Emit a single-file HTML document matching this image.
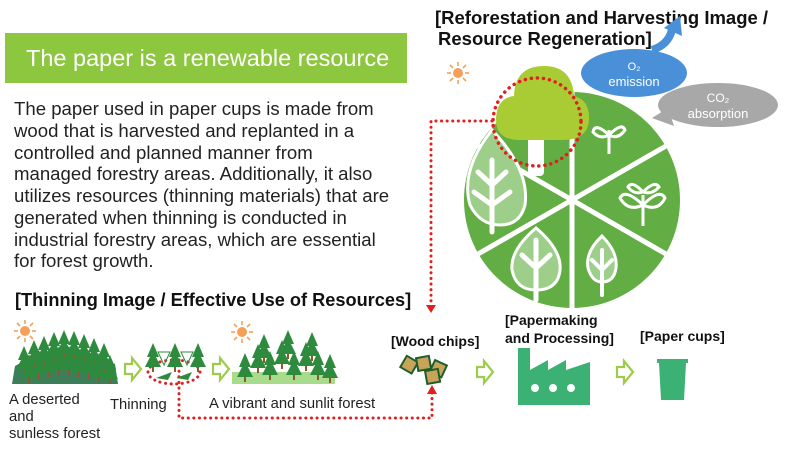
<!DOCTYPE html>
<html><head><meta charset="utf-8"><style>
body{margin:0;width:800px;height:451px;overflow:hidden;background:#fff;font-family:"Liberation Sans",sans-serif}
</style></head><body>
<svg width="800" height="451" viewBox="0 0 800 451" xmlns="http://www.w3.org/2000/svg" font-family="Liberation Sans, sans-serif">
<defs>
<g id="pine"><polygon points="0,-22 -6,-8 -3,-8 -8,2 8,2 3,-8 6,-8" fill="#2e8b3e"/><rect x="-1" y="2" width="2" height="5" fill="#8a5a2b"/></g>
<g id="sun"><circle r="5" fill="#f5a05a"/><g stroke="#f5a05a" stroke-width="1.6"><line x1="0" y1="-7" x2="0" y2="-11"/><line x1="0" y1="7" x2="0" y2="11"/><line x1="-7" y1="0" x2="-11" y2="0"/><line x1="7" y1="0" x2="11" y2="0"/><line x1="5" y1="5" x2="8" y2="8"/><line x1="-5" y1="5" x2="-8" y2="8"/><line x1="5" y1="-5" x2="8" y2="-8"/><line x1="-5" y1="-5" x2="-8" y2="-8"/></g></g>
<g id="arr"><polygon points="0,-5 7,-5 7,-11 16,0 7,11 7,5 0,5" fill="#fff" stroke="#9ccc4a" stroke-width="2.2"/></g>
</defs>
<rect x="5" y="33" width="402" height="50" fill="#8dc63f"/>
<text x="26" y="66" font-size="23.5" fill="#fff">The paper is a renewable resource</text>
<g font-size="18.6" fill="#222">
<text x="14" y="115">The paper used in paper cups is made from</text>
<text x="14" y="137">wood that is harvested and replanted in a</text>
<text x="14" y="159">controlled and planned manner from</text>
<text x="14" y="180">managed forestry areas. Additionally, it also</text>
<text x="14" y="202">utilizes resources (thinning materials) that are</text>
<text x="14" y="224">generated when thinning is conducted in</text>
<text x="14" y="246">industrial forestry areas, which are essential</text>
<text x="14" y="267">for forest growth.</text>
</g>
<g font-size="18.5" font-weight="bold" fill="#111">
<text x="435" y="24">[Reforestation and Harvesting Image /</text>
<text x="438" y="45">Resource Regeneration]</text>
<text x="15" y="306" font-size="18.2">[Thinning Image / Effective Use of Resources]</text>
</g>
<use href="#sun" x="458" y="73"/>
<path d="M652,50 Q668,45 672,30" stroke="#4a90d9" stroke-width="8" fill="none"/>
<polygon points="664,28 680,16 682,36" fill="#4a90d9"/>
<ellipse cx="634" cy="73" rx="53" ry="24" fill="#4a90d9"/>
<text x="634" y="70" font-size="11" fill="#fff" text-anchor="middle">O₂</text>
<text x="634" y="86" font-size="13" fill="#fff" text-anchor="middle">emission</text>
<polygon points="668,108 652,118 674,126" fill="#a8a8a8"/>
<ellipse cx="718" cy="105" rx="60" ry="22" fill="#a8a8a8"/>
<text x="718" y="102" font-size="12" fill="#fff" text-anchor="middle">CO₂</text>
<text x="718" y="118" font-size="13" fill="#fff" text-anchor="middle">absorption</text>
<circle cx="572" cy="200" r="108" fill="#63ad45"/>
<g stroke="#fff" stroke-width="5">
<line x1="572" y1="92" x2="572" y2="308"/>
<line x1="478" y1="254" x2="666" y2="146"/>
<line x1="478" y1="146" x2="666" y2="254"/>
</g>
<path d="M492,130 Q460,170 470,205 Q480,225 500,225 Q520,225 525,205 Q530,170 492,130Z" fill="#9dcf8a" stroke="#fff" stroke-width="3"/>
<path d="M492,160 V232 M492,185 L478,172 M492,185 L506,172 M492,205 L474,192 M492,205 L510,192" stroke="#fff" stroke-width="5" fill="none" stroke-linecap="round"/>
<path d="M536,228 Q510,250 512,270 Q516,290 536,290 Q558,290 560,270 Q562,250 536,228Z" fill="#9dcf8a" stroke="#fff" stroke-width="3"/>
<path d="M536,240 V300 M536,268 L522,255 M536,268 L550,255" stroke="#fff" stroke-width="5" fill="none" stroke-linecap="round"/>
<path d="M602,236 Q585,252 588,268 Q592,282 602,282 Q614,282 616,268 Q618,252 602,236Z" fill="#9dcf8a" stroke="#fff" stroke-width="3"/>
<path d="M602,250 V295 M602,270 L592,260 M602,270 L612,260" stroke="#fff" stroke-width="4" fill="none" stroke-linecap="round"/>
<path d="M609,154 V130 M609,135 Q595,122 593,132 Q600,140 609,135 M609,135 Q622,122 625,130 Q618,140 609,135" stroke="#fff" stroke-width="3" fill="none"/>
<path d="M643,226 V195 M643,205 Q625,188 620,198 Q628,212 643,205 M643,205 Q660,188 665,198 Q658,212 643,205 M643,192 Q632,180 628,187 Q634,195 643,192 M643,192 Q655,180 659,187 Q652,195 643,192" stroke="#fff" stroke-width="3" fill="none"/>
<rect x="528" y="128" width="16" height="48" rx="4" fill="#fff"/>
<path d="M520,140 Q495,140 496,118 Q497,98 514,96 Q515,66 544,66 Q572,66 574,96 Q590,100 589,120 Q588,140 562,140Z" fill="#a9cc35"/>
<circle cx="537" cy="122" r="44" fill="none" stroke="#e02020" stroke-width="3.5" stroke-dasharray="0.1 6" stroke-linecap="round"/>
<g fill="none" stroke="#e02020" stroke-width="3" stroke-dasharray="0.1 5.5" stroke-linecap="round">
<path d="M492,121 H431 V305"/>
<path d="M179,360 V418 H432 V392"/>
<ellipse cx="174" cy="372" rx="26" ry="12"/>
</g>
<polygon points="426,305 436,305 431,313" fill="#e02020"/>
<polygon points="427,394 437,394 432,385" fill="#e02020"/>
<use href="#sun" x="25" y="331"/>
<path d="M12,384 L15,366 Q60,338 115,364 L118,384Z" fill="#3c7e58"/>
<g>
<use href="#pine" x="24" y="368"/><use href="#pine" x="34" y="362"/><use href="#pine" x="44" y="358"/><use href="#pine" x="54" y="354"/><use href="#pine" x="64" y="352"/><use href="#pine" x="74" y="353"/><use href="#pine" x="84" y="356"/><use href="#pine" x="94" y="360"/><use href="#pine" x="104" y="365"/>
<use href="#pine" x="29" y="376"/><use href="#pine" x="39" y="372"/><use href="#pine" x="49" y="370"/><use href="#pine" x="59" y="368"/><use href="#pine" x="69" y="368"/><use href="#pine" x="79" y="370"/><use href="#pine" x="89" y="372"/><use href="#pine" x="99" y="375"/><use href="#pine" x="110" y="377"/>
</g>
<use href="#arr" x="125" y="369"/>
<use href="#pine" x="153" y="365"/><use href="#pine" x="175" y="365"/><use href="#pine" x="198" y="365"/>
<polygon points="164,365 158,352 170,352" fill="none" stroke="#2e8b3e"/><polygon points="187,365 181,352 193,352" fill="none" stroke="#2e8b3e"/>
<polygon points="156,378 172,372 168,380" fill="#2e8b3e"/><polygon points="176,378 192,372 188,380" fill="#2e8b3e"/>
<use href="#arr" x="213" y="369"/>
<use href="#sun" x="242" y="332"/>
<rect x="232" y="372" width="103" height="12" fill="#a9db8c"/>
<use href="#pine" x="245" y="375"/><use href="#pine" x="258" y="366"/><use href="#pine" x="270" y="373"/><use href="#pine" x="282" y="362"/><use href="#pine" x="294" y="373"/><use href="#pine" x="306" y="364"/><use href="#pine" x="318" y="373"/><use href="#pine" x="330" y="376"/><use href="#pine" x="264" y="356"/><use href="#pine" x="288" y="352"/><use href="#pine" x="312" y="354"/>
<g font-size="14.8" fill="#222">
<text x="9" y="404">A deserted</text><text x="9" y="421">and</text><text x="9" y="438">sunless forest</text>
<text x="110" y="409">Thinning</text>
<text x="209" y="408">A vibrant and sunlit forest</text>
</g>
<g font-size="14" font-weight="bold" fill="#111">
<text x="391" y="346">[Wood chips]</text>
<text x="505" y="325">[Papermaking</text>
<text x="505" y="343">and Processing]</text>
<text x="640" y="341">[Paper cups]</text>
</g>
<g stroke="#1f5e2a" stroke-width="2" fill="#c8a45a">
<rect x="403" y="358" width="13" height="13" transform="rotate(30 409 364)"/>
<rect x="417" y="357" width="13" height="13" transform="rotate(-10 423 363)"/>
<rect x="432" y="362" width="13" height="13" transform="rotate(25 438 368)"/>
<rect x="426" y="370" width="13" height="13" transform="rotate(-10 432 376)"/>
</g>
<use href="#arr" x="477" y="372"/>
<path d="M518,348 H530 V370 L548,360 V370 L566,360 V370 L590,362 V405 H518Z" fill="#3bb273"/>
<circle cx="535" cy="388" r="4" fill="#fff"/><circle cx="553" cy="388" r="4" fill="#fff"/><circle cx="571" cy="388" r="4" fill="#fff"/>
<use href="#arr" x="617" y="372"/>
<rect x="657" y="359" width="31" height="4" fill="#3bb273"/>
<polygon points="659,363 686,363 684,400 661,400" fill="#3bb273"/>
</svg>
</body></html>
